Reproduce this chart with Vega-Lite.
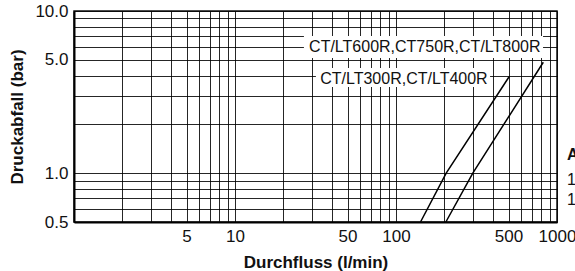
{
  "$schema": "https://vega.github.io/schema/vega-lite/v6.json",
  "width": 483,
  "height": 211,
  "autosize": {"type": "none"},
  "padding": {"left": 74, "top": 11, "right": 18, "bottom": 49},
  "background": "white",
  "config": {
    "font": "Liberation Sans",
    "view": {"stroke": "#111", "strokeWidth": 1.5}
  },
  "datasets": {
    "curves": [
      {"series": "CT/LT300R,CT/LT400R", "x": 142, "y": 0.5},
      {"series": "CT/LT300R,CT/LT400R", "x": 205, "y": 1.0},
      {"series": "CT/LT300R,CT/LT400R", "x": 504, "y": 3.93},
      {"series": "CT/LT600R,CT750R,CT/LT800R", "x": 204, "y": 0.5},
      {"series": "CT/LT600R,CT750R,CT/LT800R", "x": 300, "y": 1.0},
      {"series": "CT/LT600R,CT750R,CT/LT800R", "x": 822, "y": 4.83}
    ],
    "boxes": [
      {"x": 26.8, "xe": 819, "y": 5.13, "ye": 7.01},
      {"x": 31.8, "xe": 384, "y": 3.4, "ye": 4.45}
    ],
    "labels": [
      {"x": 151, "y": 5.96, "label": "CT/LT600R,CT750R,CT/LT800R"},
      {"x": 112, "y": 3.82, "label": "CT/LT300R,CT/LT400R"}
    ],
    "notesBold": [
      {"x": 1154, "y": 1.29, "label": "A"}
    ],
    "notes": [
      {"x": 1154, "y": 0.908, "label": "1"},
      {"x": 1154, "y": 0.684, "label": "1"}
    ]
  },
  "encoding": {
    "x": {
      "field": "x",
      "type": "quantitative",
      "scale": {"type": "log", "domain": [1, 1000], "nice": false},
      "axis": {
        "title": "Durchfluss (l/min)",
        "values": [1, 2, 3, 4, 5, 6, 7, 8, 9, 10, 20, 30, 40, 50, 60, 70, 80, 90, 100, 200, 300, 400, 500, 600, 700, 800, 900, 1000],
        "format": "d",
        "labelExpr": "indexof([5, 10, 50, 100, 500, 1000], datum.value) >= 0 ? datum.label : ''",
        "labelOverlap": false,
        "labelFlush": false,
        "grid": true,
        "gridColor": "#000",
        "gridOpacity": 0.85,
        "gridWidth": 1,
        "ticks": false,
        "domainColor": "#000",
        "domainWidth": 2,
        "labelFontSize": 17,
        "labelColor": "#111",
        "labelPadding": 6,
        "titleFontSize": 17,
        "titleFontWeight": "bold",
        "titleColor": "#111",
        "titlePadding": 10
      }
    },
    "y": {
      "field": "y",
      "type": "quantitative",
      "scale": {"type": "log", "domain": [0.5, 10], "nice": false},
      "axis": {
        "title": "Druckabfall (bar)",
        "values": [0.5, 0.6, 0.7, 0.8, 0.9, 1, 2, 3, 4, 5, 6, 7, 8, 9, 10],
        "labelExpr": "indexof([0.5, 1, 5, 10], datum.value) >= 0 ? format(datum.value, '.1f') : ''",
        "labelOverlap": false,
        "labelFlush": false,
        "grid": true,
        "gridColor": "#000",
        "gridOpacity": 0.85,
        "gridWidth": 1,
        "ticks": false,
        "domainColor": "#000",
        "domainWidth": 2,
        "labelFontSize": 17,
        "labelColor": "#111",
        "labelPadding": 6,
        "titleFontSize": 17,
        "titleFontWeight": "bold",
        "titleColor": "#111",
        "titlePadding": 8
      }
    }
  },
  "layer": [
    {
      "data": {"name": "curves"},
      "mark": {"type": "line", "color": "#000", "strokeWidth": 1.5},
      "encoding": {"detail": {"field": "series"}}
    },
    {
      "data": {"name": "boxes"},
      "mark": {"type": "rect", "fill": "white"},
      "encoding": {"x2": {"field": "xe"}, "y2": {"field": "ye"}}
    },
    {
      "data": {"name": "labels"},
      "mark": {"type": "text", "fontSize": 16, "align": "center", "baseline": "middle", "color": "#111"},
      "encoding": {"text": {"field": "label"}}
    },
    {
      "data": {"name": "notesBold"},
      "mark": {"type": "text", "fontSize": 16, "fontWeight": "bold", "align": "left", "baseline": "middle", "color": "#111"},
      "encoding": {"text": {"field": "label"}}
    },
    {
      "data": {"name": "notes"},
      "mark": {"type": "text", "fontSize": 16, "align": "left", "baseline": "middle", "color": "#111"},
      "encoding": {"text": {"field": "label"}}
    }
  ]
}
